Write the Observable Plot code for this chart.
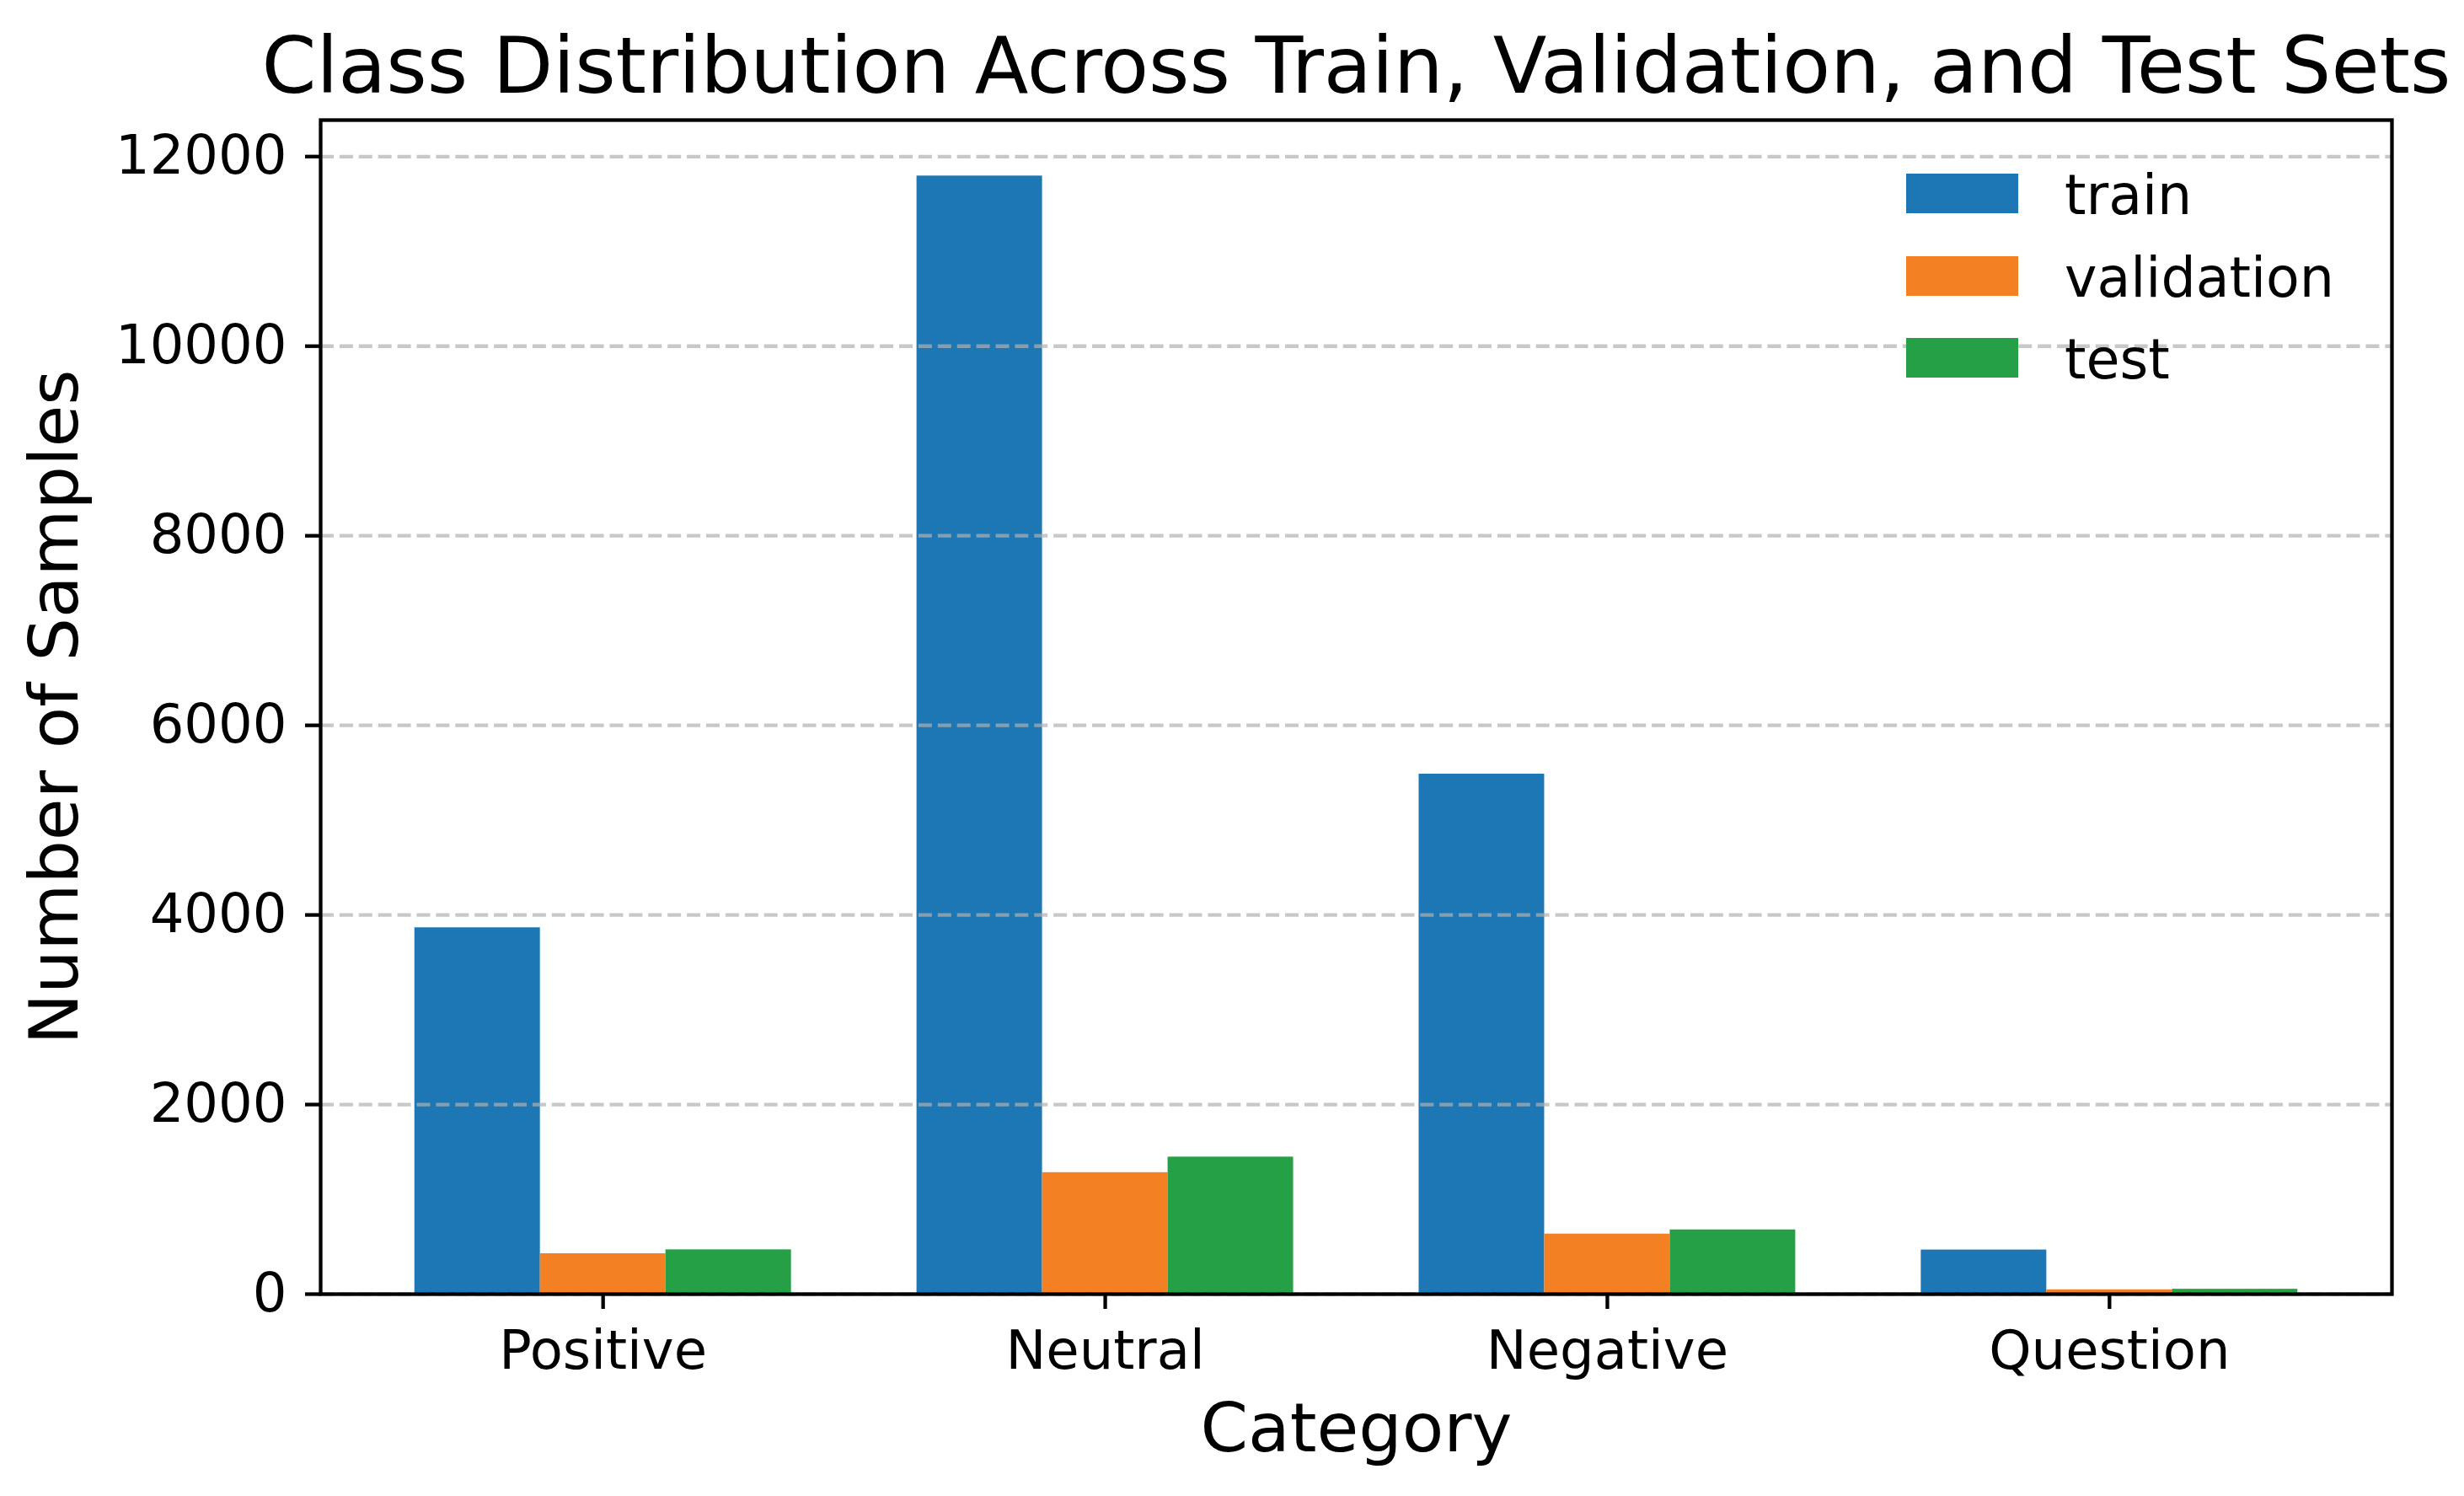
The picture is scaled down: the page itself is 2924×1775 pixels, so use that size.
<!DOCTYPE html>
<html>
<head>
<meta charset="utf-8">
<script src="https://cdn.jsdelivr.net/npm/d3@7"></script>
<script src="https://cdn.jsdelivr.net/npm/@observablehq/plot@0.6"></script>
<style>
  html, body { margin: 0; padding: 0; background: #fff; }
  #wrap { position: relative; width: 2924px; height: 1775px; font-family: "DejaVu Sans", sans-serif; }
  #legend { position: absolute; left: 2262px; top: 206px; }
  .row { position: absolute; left: 0; width: 600px; height: 47px; }
  .sw { position: absolute; left: 0; top: 0; width: 133px; height: 47px; }
  .lab { position: absolute; left: 188px; top: -7px; font-size: 65px; line-height: 1; color: #000; white-space: nowrap; }
</style>
</head>
<body>
<div id="wrap"></div>
<script>
const categories = ["Positive", "Neutral", "Negative", "Question"];
const sets = ["train", "validation", "test"];
const trainCounts = [3865, 11795, 5486, 466];
const validationCounts = [427, 1282, 634, 46];
const testCounts = [468, 1446, 678, 52];
const yTicks = [0, 2000, 4000, 6000, 8000, 10000, 12000];
const setColors = ["#1c77b4", "#f48024", "#26a047"];

// grouped-bar layout, as matplotlib does it: bar width 0.25, offsets -w, 0, +w around each category index
const barWidth = 0.25;
const seriesValues = [trainCounts, validationCounts, testCounts];
const data = categories.flatMap((c, i) =>
  sets.map((s, j) => {
    const center = i + (j - 1) * barWidth;
    return {category: c, set: s, value: seriesValues[j][i], x1: center - barWidth / 2, x2: center + barWidth / 2};
  })
);
const xLo = -1 * barWidth - barWidth / 2;
const xHi = (categories.length - 1) + barWidth + barWidth / 2;
const xPad = (xHi - xLo) * 0.05;
const yMax = d3.max(data, d => d.value) * 1.05;

const chart = Plot.plot({
  width: 2924,
  height: 1775,
  marginLeft: 380,
  marginRight: 86,
  marginTop: 142,
  marginBottom: 240,
  style: {fontFamily: "DejaVu Sans", fontSize: "64px", background: "white", overflow: "visible"},
  x: {type: "linear", domain: [xLo - xPad, xHi + xPad], label: null},
  y: {domain: [0, yMax], label: null},
  color: {domain: sets, range: setColors},
  marks: [
    Plot.rectY(data, {x1: "x1", x2: "x2", y1: 0, y2: "value", fill: "set"}),
    Plot.ruleY(yTicks, {stroke: "#b0b0b0", strokeOpacity: 0.7, strokeWidth: 4.3, strokeDasharray: "16,6.9"}),
    Plot.frame({stroke: "#000", strokeWidth: 4.3}),
    Plot.axisY(yTicks, {anchor: "left", tickSize: 18, tickPadding: 22, tickFormat: "d", fontSize: 64, strokeWidth: 4.3, label: null}),
    Plot.axisX(d3.range(categories.length), {anchor: "bottom", tickSize: 18, tickPadding: 25, tickFormat: i => categories[i], fontSize: 64, strokeWidth: 4.3, label: null}),
    Plot.text(["Class Distribution Across Train, Validation, and Test Sets"], {text: d => d, frameAnchor: "top", dy: -62, textAnchor: "middle", lineAnchor: "middle", fontSize: 93, fill: "#000"}),
    Plot.text(["Category"], {text: d => d, frameAnchor: "bottom", dy: 161, textAnchor: "middle", lineAnchor: "middle", fontSize: 81, fill: "#000"}),
    Plot.text(["Number of Samples"], {text: d => d, frameAnchor: "left", dx: -314, rotate: -90, textAnchor: "middle", lineAnchor: "middle", fontSize: 81, fill: "#000"})
  ]
});

const wrap = document.getElementById("wrap");
wrap.appendChild(chart);

const legend = document.createElement("div");
legend.id = "legend";
sets.forEach((s, j) => {
  const row = document.createElement("div");
  row.className = "row";
  row.style.top = (j * 97.7) + "px";
  const sw = document.createElement("div");
  sw.className = "sw";
  sw.style.background = setColors[j];
  const lab = document.createElement("div");
  lab.className = "lab";
  lab.textContent = s;
  row.appendChild(sw);
  row.appendChild(lab);
  legend.appendChild(row);
});
wrap.appendChild(legend);
</script>
</body>
</html>
